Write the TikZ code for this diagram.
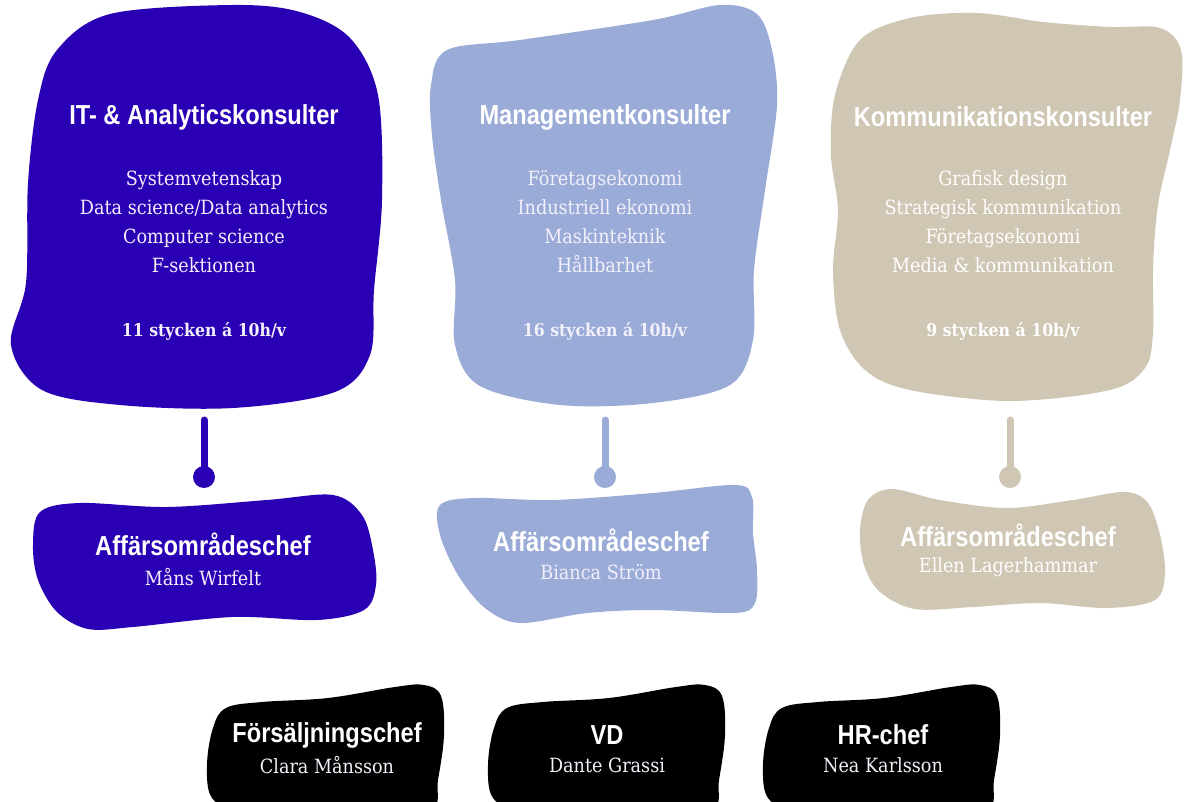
\documentclass[tikz,border=0pt]{standalone}
\usepackage{fontspec}
\setmainfont{DejaVu Serif}
\newfontfamily\headfont[FakeStretch=0.86]{Liberation Sans}
\newfontfamily\bodyfont[FakeStretch=0.9]{DejaVu Serif}
\definecolor{itblue}{HTML}{2A00B4}
\definecolor{mgmtblue}{HTML}{9AABD8}
\definecolor{kommbeige}{HTML}{CFC6B3}
\definecolor{softwhite}{HTML}{F2F0FA}
\begin{document}
\begin{tikzpicture}[x=1pt,y=-1pt,
  head/.style={font=\headfont\bfseries\fontsize{27.5}{31}\selectfont, text=white, inner sep=0pt},
  body/.style={font=\bodyfont\fontsize{19.6}{29}\selectfont, text=softwhite, align=center, inner sep=0pt},
  count/.style={font=\bodyfont\bfseries\fontsize{17.5}{20}\selectfont, text=softwhite, inner sep=0pt},
  conn/.style={line width=7pt, line cap=round},
  knob/.style={circle, minimum size=22pt, inner sep=0pt},
  blob/.style={smooth cycle, tension=0.55}
]
\useasboundingbox (0,0) rectangle (1184,802);
\fill[white] (0,0) rectangle (1184,802);

% ---- top blobs ----
\fill[itblue] plot[blob] coordinates {(57,50) (110,14) (233,5) (300,12) (350,38) (378,95) (382,200) (374,290) (370,355) (335,392) (233,408) (120,405) (42,390) (11,345) (26,283) (28,183) (38,100)};
\fill[mgmtblue] plot[blob] coordinates {(431,85) (447,50) (520,40) (653,20) (720,5) (757,14) (772,50) (777,105) (765,190) (754,270) (753,340) (730,385) (653,403) (560,405) (480,386) (455,345) (455,280) (441,200) (432,135)};
\fill[kommbeige] plot[blob] coordinates {(860,40) (910,18) (977,13) (1043,22) (1110,27) (1160,28) (1181,50) (1180,100) (1170,150) (1158,205) (1153,267) (1153,333) (1145,368) (1110,390) (1010,401) (910,390) (865,370) (840,330) (833,270) (838,210) (831,155) (835,95)};

% ---- lower blobs ----
\fill[itblue] plot[blob] coordinates {(40,512) (80,503) (167,507) (267,500) (333,495) (362,515) (373,550) (376,585) (364,610) (317,620) (233,617) (133,627) (88,629) (57,612) (38,580) (33,545)};
\fill[mgmtblue] plot[blob] coordinates {(440,505) (475,498) (553,500) (653,493) (735,485) (752,497) (753,533) (757,570) (755,603) (735,613) (653,610) (587,613) (520,623) (485,608) (458,575) (440,535)};
\fill[kommbeige] plot[blob] coordinates {(868,500) (892,489) (940,500) (1007,508) (1073,500) (1125,492) (1148,503) (1160,535) (1165,573) (1155,600) (1107,608) (1040,603) (973,607) (915,609) (880,592) (864,565) (860,530)};

% ---- bottom black blobs ----
\foreach \dx in {0,281,556}{
  \fill[black, shift={(\dx,0)}] plot[smooth cycle, tension=0.6] coordinates {(226,708) (262,702) (328,698) (395,687) (424,685) (441,696) (444,735) (438,780) (432,808) (380,804) (300,807) (240,810) (212,798) (207,765) (213,728)};
}

% ---- top texts ----
\node[head] (t1) at (204,117) {IT- \& Analyticskonsulter};
\node[body] (b1) at (204,222) {Systemvetenskap\\Data science/Data analytics\\Computer science\\F-sektionen};
\node[count] (n1) at (204,331) {11 stycken á 10h/v};

\node[head] (t2) at (605,117) {Managementkonsulter};
\node[body] (b2) at (605,222) {Företagsekonomi\\Industriell ekonomi\\Maskinteknik\\Hållbarhet};
\node[count] (n2) at (605,331) {16 stycken á 10h/v};

\node[head] (t3) at (1003,117) {Kommunikationskonsulter};
\node[body, text=white] (b3) at (1003,222) {Grafisk design\\Strategisk kommunikation\\Företagsekonomi\\Media \& kommunikation};
\node[count, text=white] (n3) at (1003,331) {9 stycken á 10h/v};

% ---- connectors ----
\coordinate (s1) at (204,420);
\coordinate (s2) at (605,420);
\coordinate (s3) at (1010,420);
\node[knob, fill=itblue] (k1) at (204,477) {};
\node[knob, fill=mgmtblue] (k2) at (605,477) {};
\node[knob, fill=kommbeige] (k3) at (1010,477) {};
\draw[conn, itblue] (s1) -- (k1.center);
\draw[conn, mgmtblue] (s2) -- (k2.center);
\draw[conn, kommbeige] (s3) -- (k3.center);

% ---- lower texts ----
\node[head] (h1) at (203,544) {Affärsområdeschef};
\node[body] (p1) at (203,577) {Måns Wirfelt};
\node[head] (h2) at (601,540) {Affärsområdeschef};
\node[body] (p2) at (601,572) {Bianca Ström};
\node[head] (h3) at (1008,535) {Affärsområdeschef};
\node[body, text=white] (p3) at (1008,567) {Ellen Lagerhammar};

% ---- bottom texts ----
\node[head] (f1) at (327,735) {Försäljningschef};
\node[body] (f2) at (327,765) {Clara Månsson};
\node[head] (v1) at (607,735) {VD};
\node[body] (v2) at (607,765) {Dante Grassi};
\node[head] (r1) at (883,735) {HR-chef};
\node[body] (r2) at (883,765) {Nea Karlsson};
\end{tikzpicture}
\end{document}
